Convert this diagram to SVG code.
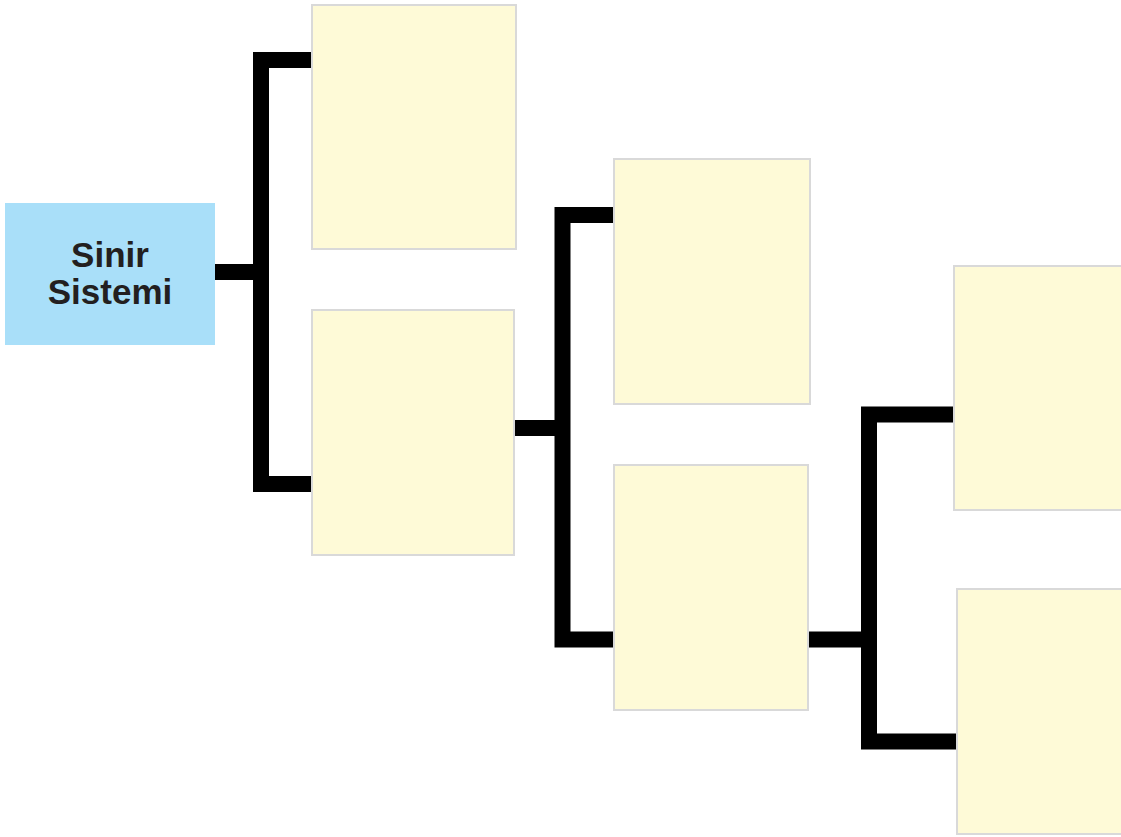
<svg xmlns="http://www.w3.org/2000/svg" width="1121" height="837" viewBox="0 0 1121 837">
  <style>
    .conn { fill: none; stroke: #000000; stroke-width: 16; stroke-linejoin: miter; stroke-linecap: butt; }
    .box { fill: #FEFAD7; stroke: #D9D9D9; stroke-width: 2; }
    .root { fill: #A9DFF9; }
    .label { font-family: "Liberation Sans", Arial, sans-serif; font-weight: bold; font-size: 35px; fill: #231F20; text-anchor: middle; }
  </style>
  <rect x="0" y="0" width="1121" height="837" fill="#FFFFFF"/>
  <g id="connectors">
    <path class="conn" d="M215,272 H261"/>
    <path class="conn" d="M312,60 H261 V484 H312"/>
    <path class="conn" d="M514,428 H562.5"/>
    <path class="conn" d="M614,215 H562.5 V639.5 H614"/>
    <path class="conn" d="M808,639.5 H869"/>
    <path class="conn" d="M954,414.5 H869 V741.5 H957"/>
  </g>
  <g id="root">
    <rect class="root" x="5" y="203" width="210" height="142"/>
    <text class="label" x="110" y="267">Sinir</text>
    <text class="label" x="110" y="304">Sistemi</text>
  </g>
  <g id="box1"><rect class="box" x="312" y="5" width="204" height="244"/></g>
  <g id="box2"><rect class="box" x="312" y="310" width="202" height="245"/></g>
  <g id="box3"><rect class="box" x="614" y="159" width="196" height="245"/></g>
  <g id="box4"><rect class="box" x="614" y="465" width="194" height="245"/></g>
  <g id="box5"><rect class="box" x="954" y="266" width="200" height="244"/></g>
  <g id="box6"><rect class="box" x="957" y="589" width="200" height="245"/></g>
</svg>
